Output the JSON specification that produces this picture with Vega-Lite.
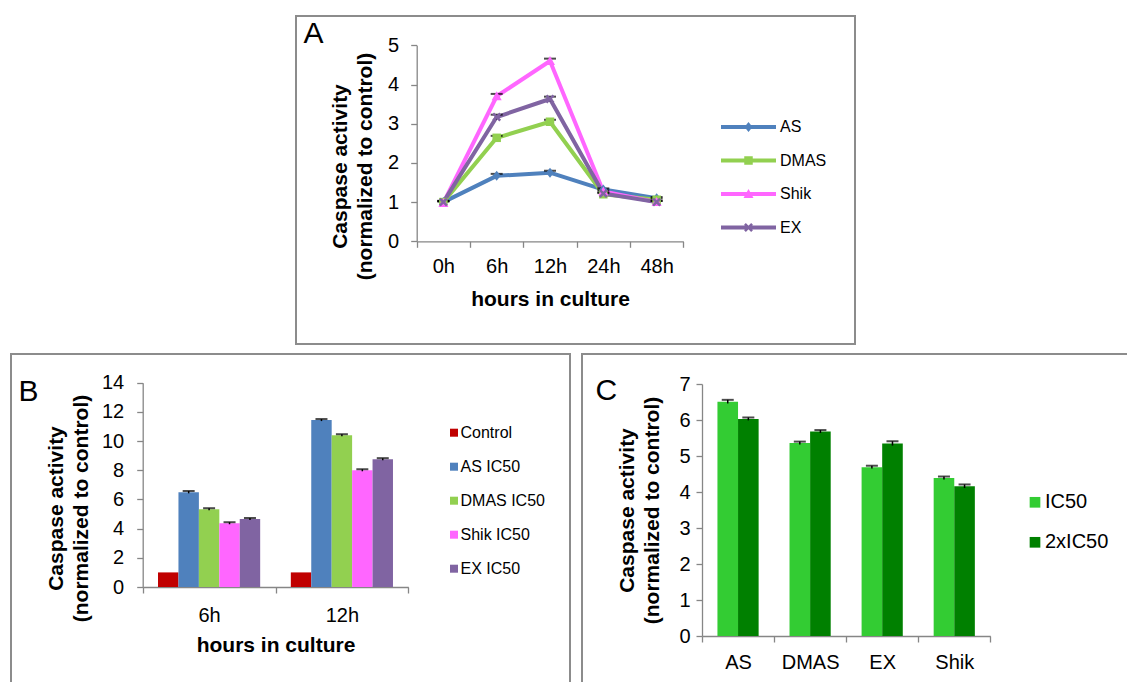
{
  "$schema": "https://vega.github.io/schema/vega-lite/v6.json",
  "padding": {"left": 10, "top": 10, "right": 0, "bottom": 0},
  "background": "white",
  "config": {
    "font": "Liberation Sans",
    "view": {"stroke": "#8c8c8c", "strokeWidth": 2},
    "axis": {"labelFont": "Liberation Sans", "titleFont": "Liberation Sans", "domainColor": "#868686", "tickColor": "#868686", "labelColor": "#000", "titleColor": "#000", "grid": false, "labelFontSize": 20, "titleFontSize": 21, "titleFontWeight": "bold", "tickSize": 6, "domainWidth": 1.3, "tickWidth": 1.3, "labelAngle": 0},
    "legend": {"labelFont": "Liberation Sans", "labelColor": "#000", "padding": 0, "titlePadding": 0}
  },
  "spacing": 8,
  "resolve": {"scale": {"color": "independent", "xOffset": "independent", "shape": "independent"}, "legend": {"color": "independent"}},
  "vconcat": [
    {
      "spacing": 0,
      "hconcat": [
        {"width": 284, "height": 1, "data": {"values": [{"a": 1}]}, "mark": {"type": "text", "text": ""}, "view": {"stroke": null}},
        {
          "width": 559, "height": 328,
          "data": {"values": [
            {"series": "AS", "time": "0h", "value": 1.00, "lo": 0.97, "hi": 1.03},
            {"series": "AS", "time": "6h", "value": 1.67, "lo": 1.62, "hi": 1.72},
            {"series": "AS", "time": "12h", "value": 1.75, "lo": 1.70, "hi": 1.80},
            {"series": "AS", "time": "24h", "value": 1.32, "lo": 1.29, "hi": 1.35},
            {"series": "AS", "time": "48h", "value": 1.10, "lo": 1.07, "hi": 1.13},
            {"series": "DMAS", "time": "0h", "value": 1.00, "lo": 0.97, "hi": 1.03},
            {"series": "DMAS", "time": "6h", "value": 2.64, "lo": 2.59, "hi": 2.69},
            {"series": "DMAS", "time": "12h", "value": 3.05, "lo": 3.0, "hi": 3.1},
            {"series": "DMAS", "time": "24h", "value": 1.20, "lo": 1.17, "hi": 1.23},
            {"series": "DMAS", "time": "48h", "value": 1.06, "lo": 1.03, "hi": 1.09},
            {"series": "Shik", "time": "0h", "value": 0.98, "lo": 0.95, "hi": 1.01},
            {"series": "Shik", "time": "6h", "value": 3.70, "lo": 3.64, "hi": 3.76},
            {"series": "Shik", "time": "12h", "value": 4.60, "lo": 4.54, "hi": 4.66},
            {"series": "Shik", "time": "24h", "value": 1.27, "lo": 1.24, "hi": 1.30},
            {"series": "Shik", "time": "48h", "value": 1.00, "lo": 0.97, "hi": 1.03},
            {"series": "EX", "time": "0h", "value": 1.00, "lo": 0.97, "hi": 1.03},
            {"series": "EX", "time": "6h", "value": 3.17, "lo": 3.11, "hi": 3.23},
            {"series": "EX", "time": "12h", "value": 3.63, "lo": 3.57, "hi": 3.69},
            {"series": "EX", "time": "24h", "value": 1.22, "lo": 1.19, "hi": 1.25},
            {"series": "EX", "time": "48h", "value": 1.00, "lo": 0.97, "hi": 1.03}
          ]},
          "encoding": {
            "x": {"field": "time", "type": "ordinal", "sort": ["0h", "6h", "12h", "24h", "48h"], "bandPosition": 0.5,
              "scale": {"type": "band", "range": [120.7, 387.3], "paddingInner": 0, "paddingOuter": 0},
              "axis": {"title": "hours in culture", "titleY": 47.5, "titleBaseline": "top", "labelPadding": 9, "tickBand": "extent", "offset": -102.7}}
          },
          "resolve": {"scale": {"y": "independent", "shape": "independent", "color": "independent"}, "legend": {"color": "independent", "shape": "independent"}},
          "layer": [
            {"mark": {"type": "line", "strokeWidth": 4, "strokeJoin": "round", "strokeCap": "round"},
             "encoding": {
               "y": {"field": "value", "type": "quantitative", "scale": {"domain": [0, 5], "range": [225.3, 29.3], "nice": false, "zero": false},
                 "axis": {"title": ["Caspase activity", "(normalized to control)"], "titleX": -76.1, "titleY": 150, "titleAngle": -90, "titleBaseline": "middle", "titleAlign": "center", "titleLineHeight": 25, "values": [0, 1, 2, 3, 4, 5], "format": "d", "labelPadding": 12, "offset": -120.7}},
               "color": {"field": "series", "type": "nominal", "scale": {"domain": ["AS", "DMAS", "Shik", "EX"], "range": ["#4F81BD", "#92D050", "#FF66FF", "#8064A2"]}, "legend": null}
             }},
            {"mark": {"type": "rule", "color": "#000", "strokeWidth": 1.5},
             "encoding": {
               "y": {"field": "lo", "type": "quantitative", "scale": {"domain": [0, 5], "range": [225.3, 29.3], "nice": false, "zero": false},
                 "axis": {"orient": "right", "domain": false, "ticks": false, "labels": false, "title": "A", "titleAngle": 0, "titleAlign": "left", "titleBaseline": "alphabetic", "titleX": -552, "titleY": 26.3, "titleFontSize": 30, "titleFontWeight": "normal", "offset": 0}},
               "y2": {"field": "hi"}
             }},
            {"mark": {"type": "tick", "color": "#000", "thickness": 2, "size": 12},
             "encoding": {
               "y": {"field": "hi", "type": "quantitative", "scale": {"domain": [0, 5], "range": [225.3, 29.3], "nice": false, "zero": false}, "axis": null}
             }},
            {"mark": {"type": "point", "filled": true, "size": 100, "opacity": 1},
             "encoding": {
               "y": {"field": "value", "type": "quantitative", "scale": {"domain": [0, 5], "range": [225.3, 29.3], "nice": false, "zero": false}, "axis": null},
               "color": {"field": "series", "type": "nominal", "scale": {"domain": ["AS", "DMAS", "Shik", "EX"], "range": ["#4F81BD", "#92D050", "#FF66FF", "#8064A2"]}, "legend": null},
               "shape": {"field": "series", "type": "nominal", "legend": null,
                 "scale": {"domain": ["AS", "DMAS", "Shik", "EX"], "range": [
                   "M0,-1L0.8,0L0,1L-0.8,0Z",
                   "M-0.85,-0.85H0.85V0.85H-0.85Z",
                   "M0,-1L1,0.8H-1Z",
                   "M0.884,-0.530L0.354,0L0.884,0.530L0.530,0.884L0,0.354L-0.530,0.884L-0.884,0.530L-0.354,0L-0.884,-0.530L-0.530,-0.884L0,-0.354L0.530,-0.884Z"
                 ]}}
             }},
            {"transform": [{"filter": "false"}],
             "mark": {"type": "point", "filled": true, "size": 100},
             "encoding": {
               "y": {"field": "value", "type": "quantitative", "scale": {"domain": [0, 5], "range": [225.3, 29.3], "nice": false, "zero": false}, "axis": null},
               "color": {"field": "series", "type": "nominal", "scale": {"domain": ["AS", "DMAS", "Shik", "EX"], "range": ["#4F81BD", "#92D050", "#FF66FF", "#8064A2"]},
                 "legend": {"orient": "none", "legendX": 422, "legendY": 103, "title": null, "symbolSize": 100, "symbolOpacity": 1, "labelFontSize": 16, "labelOffset": 46, "rowPadding": 17.5, "symbolStrokeWidth": 0}},
               "shape": {"field": "series", "type": "nominal",
                 "scale": {"domain": ["AS", "DMAS", "Shik", "EX"], "range": [
                   "M-1,-0.4L10,-0.4L10,0.4L-1,0.4ZM4.5,-1L5.3,0L4.5,1L3.7,0Z",
                   "M-1,-0.4L10,-0.4L10,0.4L-1,0.4ZM3.65,-0.85L5.35,-0.85L5.35,0.85L3.65,0.85Z",
                   "M-1,-0.4L10,-0.4L10,0.4L-1,0.4ZM4.5,-1L5.5,0.8L3.5,0.8Z",
                   "M-1,-0.4L10,-0.4L10,0.4L-1,0.4ZM5.384,-0.530L4.854,0L5.384,0.530L5.030,0.884L4.5,0.354L3.970,0.884L3.616,0.530L4.146,0L3.616,-0.530L3.970,-0.884L4.5,-0.354L5.030,-0.884Z"
                 ]},
                 "legend": {"orient": "none", "legendX": 422, "legendY": 103, "title": null, "symbolSize": 100, "symbolOpacity": 1, "labelFontSize": 16, "labelOffset": 46, "rowPadding": 17.5, "symbolStrokeWidth": 0}}
             }}
          ]
        }
      ]
    },
    {
      "spacing": 10,
      "resolve": {"scale": {"color": "independent", "xOffset": "independent"}, "legend": {"color": "independent"}},
      "hconcat": [
        {
          "width": 559, "height": 335,
          "data": {"values": [
            {"time": "6h", "treatment": "Control", "value": 1.0},
            {"time": "6h", "treatment": "AS IC50", "value": 6.50, "lo": 6.42, "hi": 6.58},
            {"time": "6h", "treatment": "DMAS IC50", "value": 5.33, "lo": 5.26, "hi": 5.40},
            {"time": "6h", "treatment": "Shik IC50", "value": 4.37, "lo": 4.30, "hi": 4.44},
            {"time": "6h", "treatment": "EX IC50", "value": 4.66, "lo": 4.59, "hi": 4.73},
            {"time": "12h", "treatment": "Control", "value": 1.0},
            {"time": "12h", "treatment": "AS IC50", "value": 11.44, "lo": 11.37, "hi": 11.51},
            {"time": "12h", "treatment": "DMAS IC50", "value": 10.40, "lo": 10.33, "hi": 10.47},
            {"time": "12h", "treatment": "Shik IC50", "value": 8.00, "lo": 7.93, "hi": 8.07},
            {"time": "12h", "treatment": "EX IC50", "value": 8.76, "lo": 8.69, "hi": 8.83}
          ]},
          "encoding": {
            "x": {"field": "time", "type": "nominal", "sort": ["6h", "12h"],
              "scale": {"type": "band", "range": [131.7, 397.3], "paddingInner": 0, "paddingOuter": 0},
              "axis": {"title": "hours in culture", "titleY": 47.5, "titleBaseline": "top", "labelPadding": 12, "tickBand": "extent", "offset": -102}},
            "xOffset": {"field": "treatment", "type": "nominal", "sort": ["Control", "AS IC50", "DMAS IC50", "Shik IC50", "EX IC50"], "scale": {"paddingInner": 0, "paddingOuter": 0.75}}
          },
          "resolve": {"scale": {"y": "independent"}},
          "layer": [
            {"mark": {"type": "bar"},
             "encoding": {
               "y": {"field": "value", "type": "quantitative", "scale": {"domain": [0, 14], "range": [233, 28.7], "nice": false, "zero": false},
                 "axis": {"title": ["Caspase activity", "(normalized to control)"], "titleX": -86, "titleY": 154, "titleAngle": -90, "titleBaseline": "middle", "titleAlign": "center", "titleLineHeight": 25, "values": [0, 2, 4, 6, 8, 10, 12, 14], "format": "d", "labelPadding": 13, "offset": -131.7}},
               "color": {"field": "treatment", "type": "nominal", "scale": {"domain": ["Control", "AS IC50", "DMAS IC50", "Shik IC50", "EX IC50"], "range": ["#C00000", "#4F81BD", "#92D050", "#FF66FF", "#8064A2"]},
                 "legend": {"orient": "none", "legendX": 435, "legendY": 70.7, "title": null, "symbolType": "square", "symbolSize": 64, "labelFontSize": 16, "labelOffset": -1.5, "rowPadding": 18, "symbolStrokeWidth": 0}}
             }},
            {"transform": [{"filter": "isValid(datum.hi)"}],
             "mark": {"type": "rule", "color": "#000", "strokeWidth": 1.5},
             "encoding": {
               "y": {"field": "lo", "type": "quantitative", "scale": {"domain": [0, 14], "range": [233, 28.7], "nice": false, "zero": false},
                 "axis": {"orient": "right", "domain": false, "ticks": false, "labels": false, "title": "B", "titleAngle": 0, "titleAlign": "left", "titleBaseline": "alphabetic", "titleX": -552, "titleY": 46, "titleFontSize": 30, "titleFontWeight": "normal", "offset": 0}},
               "y2": {"field": "hi"}
             }},
            {"transform": [{"filter": "isValid(datum.hi)"}],
             "mark": {"type": "tick", "color": "#000", "thickness": 2, "size": 12},
             "encoding": {
               "y": {"field": "hi", "type": "quantitative", "scale": {"domain": [0, 14], "range": [233, 28.7], "nice": false, "zero": false}, "axis": null}
             }}
          ]
        },
        {
          "width": 556, "height": 335,
          "data": {"values": [
            {"drug": "AS", "dose": "IC50", "value": 6.51, "lo": 6.46, "hi": 6.56},
            {"drug": "AS", "dose": "2xIC50", "value": 6.03, "lo": 5.99, "hi": 6.07},
            {"drug": "DMAS", "dose": "IC50", "value": 5.36, "lo": 5.32, "hi": 5.40},
            {"drug": "DMAS", "dose": "2xIC50", "value": 5.68, "lo": 5.64, "hi": 5.72},
            {"drug": "EX", "dose": "IC50", "value": 4.69, "lo": 4.65, "hi": 4.73},
            {"drug": "EX", "dose": "2xIC50", "value": 5.35, "lo": 5.29, "hi": 5.41},
            {"drug": "Shik", "dose": "IC50", "value": 4.39, "lo": 4.35, "hi": 4.43},
            {"drug": "Shik", "dose": "2xIC50", "value": 4.16, "lo": 4.11, "hi": 4.21}
          ]},
          "encoding": {
            "x": {"field": "drug", "type": "nominal", "sort": ["AS", "DMAS", "EX", "Shik"],
              "scale": {"type": "band", "range": [120, 408.3], "paddingInner": 0, "paddingOuter": 0},
              "axis": {"title": null, "labelPadding": 10, "tickBand": "extent", "offset": -53}},
            "xOffset": {"field": "dose", "type": "nominal", "sort": ["IC50", "2xIC50"], "scale": {"paddingInner": 0, "paddingOuter": 0.75}}
          },
          "resolve": {"scale": {"y": "independent"}},
          "layer": [
            {"mark": {"type": "bar"},
             "encoding": {
               "y": {"field": "value", "type": "quantitative", "scale": {"domain": [0, 7], "range": [282, 30], "nice": false, "zero": false},
                 "axis": {"title": ["Caspase activity", "(normalized to control)"], "titleX": -75, "titleY": 156, "titleAngle": -90, "titleBaseline": "middle", "titleAlign": "center", "titleLineHeight": 25, "values": [0, 1, 2, 3, 4, 5, 6, 7], "format": "d", "labelPadding": 6, "offset": -120}},
               "color": {"field": "dose", "type": "nominal", "scale": {"domain": ["IC50", "2xIC50"], "range": ["#33CC33", "#008000"]},
                 "legend": {"orient": "none", "legendX": 443, "legendY": 138.3, "title": null, "symbolType": "square", "symbolSize": 114, "labelFontSize": 20, "labelOffset": 0, "rowPadding": 20, "symbolStrokeWidth": 0}}
             }},
            {"mark": {"type": "rule", "color": "#000", "strokeWidth": 1.5},
             "encoding": {
               "y": {"field": "lo", "type": "quantitative", "scale": {"domain": [0, 7], "range": [282, 30], "nice": false, "zero": false},
                 "axis": {"orient": "right", "domain": false, "ticks": false, "labels": false, "title": "C", "titleAngle": 0, "titleAlign": "left", "titleBaseline": "alphabetic", "titleX": -543, "titleY": 45, "titleFontSize": 30, "titleFontWeight": "normal", "offset": 0}},
               "y2": {"field": "hi"}
             }},
            {"mark": {"type": "tick", "color": "#000", "thickness": 2, "size": 12},
             "encoding": {
               "y": {"field": "hi", "type": "quantitative", "scale": {"domain": [0, 7], "range": [282, 30], "nice": false, "zero": false}, "axis": null}
             }}
          ]
        }
      ]
    }
  ]
}
